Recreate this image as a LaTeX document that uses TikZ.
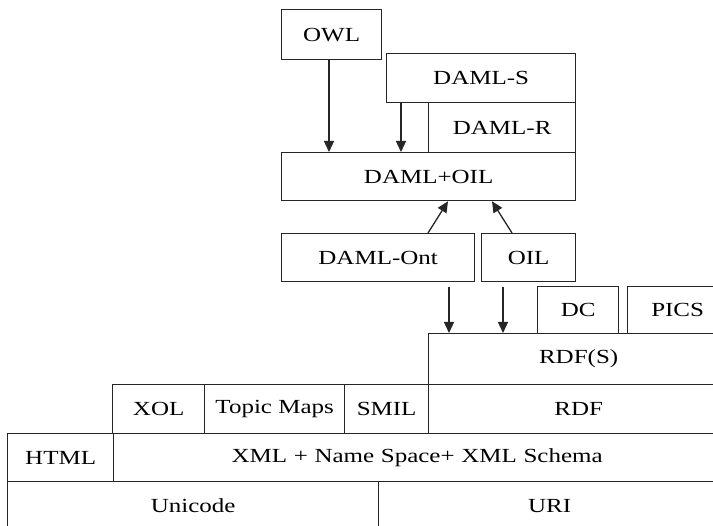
\documentclass[tikz,border=0pt]{standalone}
\usepackage{fontspec}
\setmainfont{Liberation Serif}[FakeStretch=1.25]
\usetikzlibrary{arrows.meta,calc}
\begin{document}
\begin{tikzpicture}[x=1pt,y=-1pt,
  box/.style={draw=black!85, line width=1.3pt, anchor=north west, inner sep=0pt,
    font=\fontsize{20}{22}\selectfont},
  arr/.style={line width=1.3pt, draw=black!85, -{Triangle[width=10pt,length=11pt]}}]
\useasboundingbox (0,0) rectangle (713,526);
\fill[white] (0,0) rectangle (713,526);
% top
\node[box, minimum width=100, minimum height=50] (owl) at (281,9) {OWL};
\node[box, minimum width=189, minimum height=49] (damls) at (386,53) {DAML-S};
\node[box, minimum width=147, minimum height=50] (damlr) at (428,102) {DAML-R};
\node[box, minimum width=294, minimum height=48] (damloil) at (281,152) {DAML+OIL};
\node[box, minimum width=193, minimum height=48] (damlont) at (281,233) {DAML-Ont};
\node[box, minimum width=94, minimum height=48] (oil) at (481,233) {OIL};
% right stack
\node[box, minimum width=81, minimum height=47] (dc) at (537,286) {DC};
\node[box, minimum width=100, minimum height=47, text width=86, align=center] (pics) at (627,286) {PICS\hspace*{14pt}};
\node[box, minimum width=300, minimum height=51, text width=285, align=center] (rdfs) at (428,333) {RDF(S)};
\node[box, minimum width=300, minimum height=49, text width=285, align=center] (rdf) at (428,384) {RDF};
\node[box, minimum width=92, minimum height=49] (xol) at (112,384) {XOL};
\node[box, minimum width=140, minimum height=49] (topic) at (204,384) {Topic Maps};
\node[box, minimum width=84, minimum height=49] (smil) at (344,384) {SMIL};
% bottom
\node[box, minimum width=106, minimum height=48] (html) at (7,433) {HTML};
\node[box, minimum width=607, minimum height=48, text width=600, align=center] (xml) at (113,433) {XML + Name Space+ XML Schema};
\node[box, minimum width=371, minimum height=52] (unicode) at (7,481) {\raisebox{4pt}{Unicode}};
\node[box, minimum width=342, minimum height=52, text width=335, align=center] (uri) at (378,481) {\raisebox{4pt}{URI}};
% arrows
\draw[arr] (owl.south -| 329,0) -- (damloil.north -| 329,0);
\draw[arr] (damls.south -| 401,0) -- (damloil.north -| 401,0);
\draw[arr] (damlont.north -| 428,0) -- (damloil.south -| 448,0);
\draw[arr] (oil.north -| 512,0) -- (damloil.south -| 492,0);
\draw[arr, shorten <=5pt] (damlont.south -| 449,0) -- (rdfs.north -| 449,0);
\draw[arr, shorten <=5pt] (oil.south -| 503,0) -- (rdfs.north -| 503,0);
\end{tikzpicture}
\end{document}
